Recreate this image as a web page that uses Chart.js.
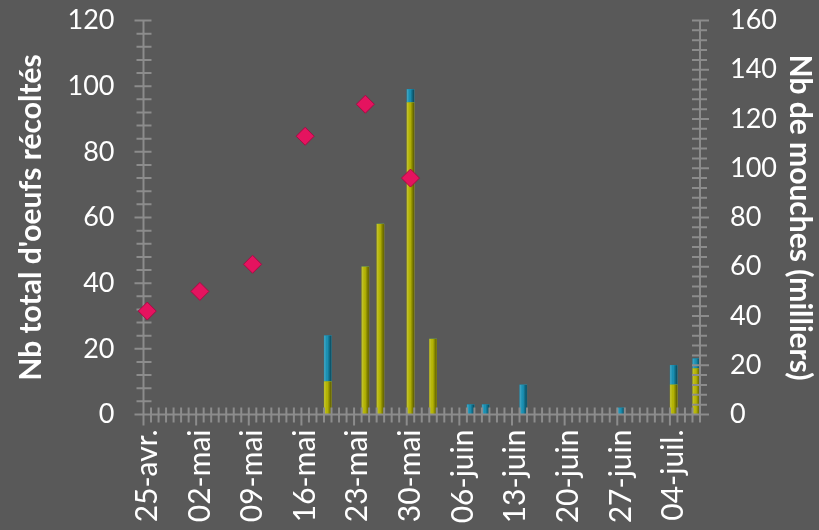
<!DOCTYPE html>
<html lang="fr">
<head>
  <meta charset="UTF-8" />
  <title>Oeufs récoltés et mouches</title>
  <script src="https://cdn.jsdelivr.net/npm/chart.js"></script>
  <style>
    body {
      margin: 0;
      padding: 0;
      background-color: #595959;
    }

    .chart-box {
      position: relative;
      width: 819px;
      height: 530px;
    }
  </style>
</head>
<body>
  <div class="chart-box">
    <canvas id="eggsChart"></canvas>
  </div>

  <script>
    // Relevés de ponte (jj/mm) et nombre d'oeufs, en deux séries empilées
    const eggDates = ['19/05', '24/05', '26/05', '30/05', '02/06', '07/06', '09/06', '14/06', '27/06', '04/07', '07/07'];
    const eggsYellow = [10, 45, 58, 95, 23, 0, 0, 0, 0, 9, 14];
    const eggsBlue = [14, 0, 0, 4, 0, 3, 3, 9, 2, 6, 3];

    // Comptages de mouches (milliers)
    const flyDates = ['25/04', '02/05', '09/05', '16/05', '24/05', '30/05'];
    const fliesThousands = [42, 50, 61, 113, 126, 96];

    // Axe des dates : une étiquette par semaine
    const tickLabels = ['25-avr.', '02-mai', '09-mai', '16-mai', '23-mai', '30-mai', '06-juin', '13-juin', '20-juin', '27-juin', '04-juil.'];
    const firstDay = '25/04';
    const lastDay = '07/07';

    const FONT = "Lato, 'Open Sans', sans-serif";
    const AXIS_GREY = '#8c8c8c';

    // nombre de jours depuis le premier relevé
    function dayIndex(s) {
      const [d, m] = s.split('/').map(Number);
      const [d0, m0] = firstDay.split('/').map(Number);
      return Math.round((Date.UTC(2001, m - 1, d) - Date.UTC(2001, m0 - 1, d0)) / 86400000);
    }

    const span = dayIndex(lastDay);

    const toPoints = (dates, values) => dates.map((d, i) => ({ x: dayIndex(d), y: values[i] }));

    // axes with ticks crossing the line, minor every 4 units / every day
    const axisMarks = {
      id: 'axisMarks',
      beforeDatasetDraw(chart, args) {
        if (args.meta.type !== 'line') return;
        const { ctx, chartArea: a, scales } = chart;
        ctx.save();
        ctx.strokeStyle = AXIS_GREY;
        ctx.lineWidth = 2;
        ctx.beginPath();
        ctx.moveTo(a.left, a.top); ctx.lineTo(a.left, a.bottom);
        ctx.moveTo(a.right, a.top); ctx.lineTo(a.right, a.bottom);
        ctx.moveTo(a.left, a.bottom); ctx.lineTo(a.right, a.bottom);

        for (let v = scales.y.min; v <= scales.y.max; v += 4) {
          const py = scales.y.getPixelForValue(v);
          ctx.moveTo(a.left - (v % 20 === 0 ? 9 : 7), py);
          ctx.lineTo(a.left + 8, py);
        }
        for (let v = scales.y2.min; v <= scales.y2.max; v += 4) {
          const py = scales.y2.getPixelForValue(v);
          ctx.moveTo(a.right - 8, py);
          ctx.lineTo(a.right + (v % 20 === 0 ? 9 : 7), py);
        }
        for (let d = 0; d <= span + 1; d++) {
          const px = scales.x.getPixelForValue(d - 0.5);
          ctx.moveTo(px, a.bottom - 7);
          ctx.lineTo(px, a.bottom + (d % 7 === 0 ? 11 : 8));
        }
        ctx.stroke();
        ctx.restore();
      }
    };

    // light left edge, dark right edge on each bar
    const cylinderShade = {
      id: 'cylinderShade',
      afterDatasetDraw(chart, args) {
        if (args.meta.type !== 'bar') return;
        const ctx = chart.ctx;
        ctx.save();
        args.meta.data.forEach(bar => {
          const { x, y, base, width } = bar.getProps(['x', 'y', 'base', 'width'], true);
          if (!isFinite(y) || Math.abs(base - y) < 0.5) return;
          const g = ctx.createLinearGradient(x - width / 2, 0, x + width / 2, 0);
          g.addColorStop(0, 'rgba(255,255,255,0.22)');
          g.addColorStop(0.35, 'rgba(255,255,255,0)');
          g.addColorStop(0.6, 'rgba(0,0,0,0.12)');
          g.addColorStop(1, 'rgba(0,0,0,0.5)');
          ctx.fillStyle = g;
          ctx.fillRect(x - width / 2, Math.min(y, base), width, Math.abs(base - y));
        });
        ctx.restore();
      }
    };

    // fixed box sizes so the plot area sits where it should
    const fixWidth = w => s => { s.width = w; s.paddingTop = 0; s.paddingBottom = 0; };

    const ctx = document.getElementById('eggsChart').getContext('2d');

    new Chart(ctx, {
      type: 'bar',
      data: {
        datasets: [
          {
            type: 'line',
            label: 'Nb de mouches (milliers)',
            data: toPoints(flyDates, fliesThousands),
            yAxisID: 'y2',
            showLine: false,
            pointStyle: 'rectRot',
            pointRadius: 9,
            pointBackgroundColor: '#e5135f',
            pointBorderColor: '#a80b45',
            pointBorderWidth: 1,
            clip: false,
            order: 0
          },
          {
            label: 'Oeufs (jaune)',
            data: toPoints(eggDates, eggsYellow),
            yAxisID: 'y',
            backgroundColor: '#b4b400',
            barThickness: 7,
            order: 1
          },
          {
            label: 'Oeufs (bleu)',
            data: toPoints(eggDates, eggsBlue),
            yAxisID: 'y',
            backgroundColor: '#168fb3',
            barThickness: 7,
            order: 1
          }
        ]
      },
      options: {
        responsive: true,
        maintainAspectRatio: false,
        animation: false,
        layout: { padding: { top: 20.5, left: 0, right: 0, bottom: 0 } },
        plugins: {
          legend: { display: false },
          tooltip: { enabled: false }
        },
        scales: {
          x: {
            type: 'linear',
            min: -0.5,
            max: span + 0.5,
            stacked: true,
            offset: false,
            grid: { display: false, drawTicks: false, tickLength: 0 },
            border: { display: false },
            afterBuildTicks: s => { s.ticks = tickLabels.map((t, i) => ({ value: i * 7 })); },
            afterFit: s => { s.height = 115.5; s.paddingLeft = 0; s.paddingRight = 0; },
            ticks: {
              color: '#ffffff',
              font: { family: FONT, size: 30 },
              minRotation: 90,
              maxRotation: 90,
              autoSkip: false,
              padding: 15,
              callback: v => tickLabels[Math.round(v / 7)]
            }
          },
          y: {
            position: 'left',
            min: 0,
            max: 120,
            stacked: true,
            grid: { display: false, drawTicks: false, tickLength: 0 },
            border: { display: false },
            afterFit: fixWidth(143.5),
            ticks: {
              stepSize: 20,
              color: '#ffffff',
              font: { family: FONT, size: 27 },
              padding: 29
            },
            title: {
              display: true,
              text: "Nb total d'oeufs récoltés",
              color: '#ffffff',
              font: { family: FONT, size: 30, weight: 'bold' },
              padding: { top: 13, bottom: 0 }
            }
          },
          y2: {
            position: 'right',
            min: 0,
            max: 160,
            grid: { display: false, drawTicks: false, tickLength: 0 },
            border: { display: false },
            afterFit: fixWidth(119),
            ticks: {
              stepSize: 20,
              color: '#ffffff',
              font: { family: FONT, size: 27 },
              padding: 30
            },
            title: {
              display: true,
              text: 'Nb de mouches (milliers)',
              color: '#ffffff',
              font: { family: FONT, size: 30, weight: 'bold' },
              padding: { top: 1, bottom: 0 }
            }
          }
        }
      },
      plugins: [axisMarks, cylinderShade]
    });
  </script>
</body>
</html>
